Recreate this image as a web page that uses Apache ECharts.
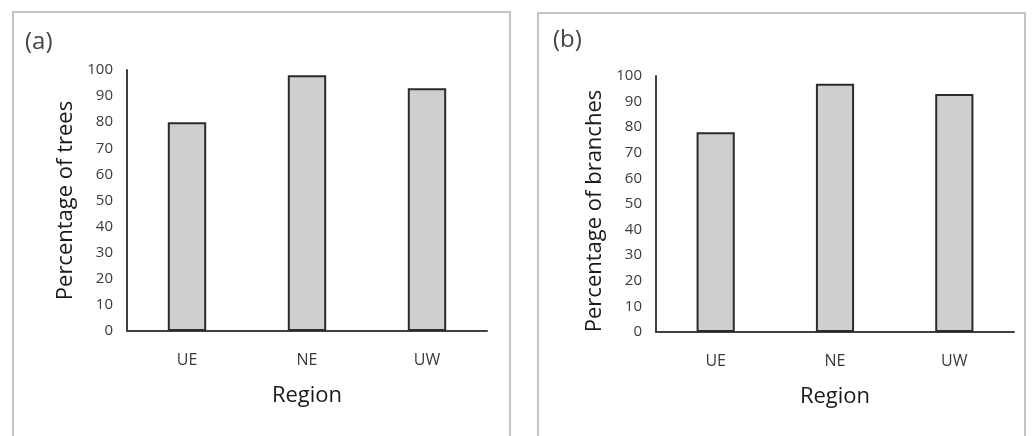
<!DOCTYPE html>
<html>
<head>
<meta charset="utf-8">
<script src="https://cdn.jsdelivr.net/npm/echarts@6/dist/echarts.min.js"></script>
<style>
  html, body { margin: 0; padding: 0; background: #fff; }
  #chart { width: 1035px; height: 436px; }
</style>
</head>
<body>
<div id="chart"></div>
<script>
// data
const regions = ['UE', 'NE', 'UW'];
const treesPct = [80, 98, 93];
const branchesPct = [78, 97, 93];
const yTicks = [0, 10, 20, 30, 40, 50, 60, 70, 80, 90, 100];

const font = '"Open Sans", "Noto Sans", sans-serif';
const axisColor = '#404040';

function xAxis(gridIndex) {
  return {
    type: 'category',
    gridIndex: gridIndex,
    data: regions,
    axisLine: { lineStyle: { color: axisColor, width: 2 } },
    axisTick: { show: false },
    axisLabel: { color: '#3a3a3a', fontSize: 16, fontFamily: font, margin: 21 },
    name: 'Region',
    nameLocation: 'middle',
    nameGap: 54,
    nameTextStyle: { color: '#1a1a1a', fontSize: 22, fontFamily: font, fontWeight: 500 }
  };
}

function yAxis(gridIndex, title, pad) {
  return {
    type: 'value',
    gridIndex: gridIndex,
    min: yTicks[0],
    max: yTicks[yTicks.length - 1],
    interval: 10,
    splitLine: { show: false },
    axisLine: { show: true, lineStyle: { color: axisColor, width: 2 } },
    axisTick: { show: false },
    axisLabel: { color: '#3a3a3a', fontSize: 15, fontFamily: font, margin: 14 },
    name: title,
    nameLocation: 'middle',
    nameGap: 50,
    nameTextStyle: { color: '#1a1a1a', fontSize: 22, fontFamily: font, fontWeight: 500, padding: pad }
  };
}

function barSeries(idx, values) {
  return {
    type: 'bar',
    xAxisIndex: idx,
    yAxisIndex: idx,
    data: values,
    barWidth: '32%',
    itemStyle: { color: '#d0cece', borderColor: '#2b2b2b', borderWidth: 2 },
    silent: true
  };
}

const chart = echarts.init(document.getElementById('chart'));
chart.setOption({
  backgroundColor: '#fff',
  animation: false,
  grid: [
    { left: 127, top: 70, width: 360, height: 261 },
    { left: 656, top: 76, width: 358, height: 256 }
  ],
  xAxis: [xAxis(0), xAxis(1)],
  yAxis: [
    yAxis(0, 'Percentage of trees', [0, 0, 0, 0]),
    yAxis(1, 'Percentage of branches', [0, 14, 0, 0])
  ],
  series: [barSeries(0, treesPct), barSeries(1, branchesPct)],
  graphic: [
    { type: 'rect', shape: { x: 13, y: 12, width: 497, height: 440 },
      style: { fill: 'none', stroke: '#c4c4c4', lineWidth: 2 }, z: -1 },
    { type: 'rect', shape: { x: 538, y: 13, width: 487, height: 440 },
      style: { fill: 'none', stroke: '#c4c4c4', lineWidth: 2 }, z: -1 },
    { type: 'text', left: 25, top: 30,
      style: { text: '(a)', fill: '#444', fontSize: 24, fontFamily: font } },
    { type: 'text', left: 553, top: 28,
      style: { text: '(b)', fill: '#444', fontSize: 24, fontFamily: font } }
  ]
});
</script>
</body>
</html>
